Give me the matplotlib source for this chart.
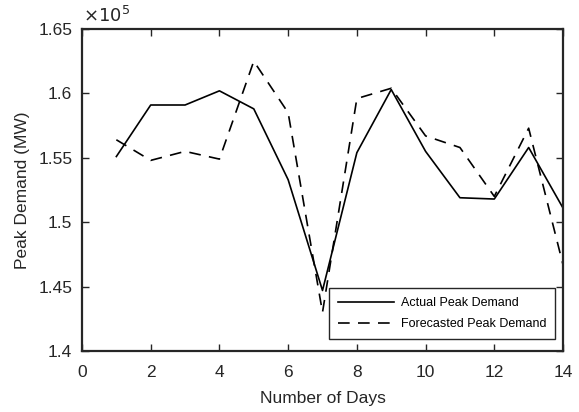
import matplotlib.pyplot as plt
from matplotlib.ticker import FuncFormatter

plt.rcParams['font.family'] = ['Liberation Sans', 'DejaVu Sans']

days = [1, 2, 3, 4, 5, 6, 7, 8, 9, 10, 11, 12, 13, 14]
actual = [155100, 159100, 159100, 160200, 158800, 153300, 144700, 155400,
          160300, 155500, 151900, 151800, 155800, 151100]
forecast = [156400, 154800, 155500, 154900, 162500, 158500, 143000, 159600,
            160400, 156700, 155800, 152000, 157300, 146700]

fig = plt.figure(figsize=(5.79, 4.12), dpi=100)
ax = fig.add_axes([0.1416, 0.148, 0.8308, 0.7816])

ax.plot(days, actual, color='black', linewidth=1.2, label='Actual Peak Demand')
ax.plot(days, forecast, color='black', linewidth=1.2, linestyle=(0, (7, 5)),
        label='Forecasted Peak Demand')

ax.set_xlim(0, 14)
ax.set_ylim(140000, 165000)
ax.set_xticks(range(0, 15, 2))
ax.set_yticks([140000, 145000, 150000, 155000, 160000, 165000])
ax.yaxis.set_major_formatter(FuncFormatter(lambda v, p: '%g' % (v / 1e5)))
ax.tick_params(direction='in', top=True, right=True, labelsize=12.5,
               length=5, width=1, colors='#262626')
ax.tick_params(axis='x', pad=10)
ax.tick_params(axis='y', pad=7)
for s in ax.spines.values():
    s.set_linewidth(1.6)
    s.set_color('#262626')

ax.text(0.003, 1.008, r'$\times 10^5$', transform=ax.transAxes, fontsize=13,
        ha='left', va='bottom', color='#262626')
ax.set_xlabel('Number of Days', fontsize=12.5, color='#262626', labelpad=8)
ax.set_ylabel('Peak Demand (MW)', fontsize=12.5, color='#262626', labelpad=6)

leg = ax.legend(loc='lower right', fontsize=9, fancybox=False, framealpha=1,
                edgecolor='#262626', handlelength=4.5, handletextpad=0.5,
                bbox_to_anchor=(0.983, 0.037), borderaxespad=0,
                borderpad=0.7, labelspacing=0.75)
leg.get_frame().set_linewidth(1.0)

fig.savefig('out.png', dpi=100)
